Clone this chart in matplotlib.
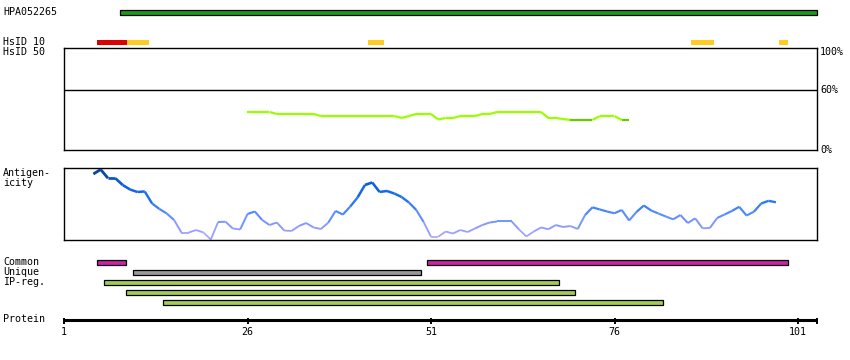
import matplotlib
matplotlib.use("Agg")
import matplotlib.pyplot as plt
from matplotlib.collections import LineCollection
from matplotlib.colors import LinearSegmentedColormap
import numpy as np

# ---- data (residue positions) ----
protein_len = 103.6
tick_pos = [1, 26, 51, 76, 101]

hpa_range = (8.6, 103.6)

hsid10_starts = [5.5, 9.6, 42.4, 86.4, 98.4]
hsid10_ends = [9.6, 12.6, 44.6, 89.6, 99.6]
hsid10_colors = ["#dd0000", "#ffcc22", "#ffcc22", "#ffcc22", "#ffcc22"]

hsid50_res = list(range(26, 79))
hsid50_pct = [37.3, 37.3, 37.3, 37.3, 35.3, 35.3, 35.3, 35.3, 35.3, 35.3,
              33.3, 33.3, 33.3, 33.3, 33.3, 33.3, 33.3, 33.3, 33.3, 33.3,
              33.3, 31.4, 33.3, 35.3, 35.3, 35.3, 30.0, 31.4, 31.4, 33.3,
              33.3, 33.3, 35.3, 35.3, 37.3, 37.3, 37.3, 37.3, 37.3, 37.3,
              37.3, 31.4, 31.4, 30.4, 29.4, 29.4, 29.4, 29.4, 33.3, 33.3,
              33.3, 29.4, 29.4]

antigen_res = list(range(5, 99))
antigen_val = [91.7, 97.9, 85.7, 85.7, 76.4, 70.1, 66.7, 67.4, 50.7, 43.1,
               36.8, 27.8, 10.4, 10.4, 13.9, 10.4, 0.7, 25.0, 25.4, 16.0,
               14.6, 36.1, 39.6, 27.8, 20.8, 24.3, 13.2, 12.5, 19.4, 23.6,
               17.4, 15.3, 24.0, 40.3, 35.4, 46.5, 59.0, 76.4, 79.9, 66.7,
               68.1, 64.6, 59.7, 52.1, 41.7, 25.0, 4.6, 4.6, 11.8, 9.0,
               13.9, 11.1, 16.0, 20.8, 24.3, 25.7, 25.7, 25.7, 14.6, 4.9,
               11.8, 17.4, 14.9, 20.8, 18.1, 19.4, 15.3, 34.7, 45.4, 42.4,
               39.6, 37.1, 41.7, 27.1, 38.9, 47.9, 41.0, 36.8, 32.6, 28.7,
               34.7, 23.6, 30.1, 16.3, 16.7, 30.6, 35.4, 40.3, 46.1, 34.0,
               39.3, 50.7, 54.4, 52.4]

common_starts = [5.5, 50.5]
common_ends = [9.5, 99.6]
unique_starts = [10.4]
unique_ends = [49.6]
ipreg_starts = [6.5, 9.5, 14.5]
ipreg_ends = [68.5, 70.6, 82.6]

# ---- layout (pixel rows) ----
W, H = 850, 360
px_per_res = 7.34
x0 = 1 - 64 / px_per_res
x1 = x0 + W / px_per_res

fig = plt.figure(figsize=(W / 100, H / 100), dpi=100)
ax = fig.add_axes([0, 0, 1, 1])
ax.set_xlim(x0, x1)
ax.set_ylim(H, 0)
ax.axis("off")

font = dict(family="DejaVu Sans Mono", fontsize=7.2, color="black")

def bars(starts, ends, yc, h, color, edge=True):
    s = np.array(starts)
    e = np.array(ends)
    ax.barh([yc] * len(s), e - s, left=s, height=h, color=color,
            edgecolor="black" if edge else "none", linewidth=0.9 if edge else 0)

# HPA bar
bars([hpa_range[0]], [hpa_range[1]], 12, 5, "#1a9a1a")
ax.text(x0 + 3 / px_per_res, 12, "HPA052265", va="center", **font)

# HsID 10
for s, e, c in zip(hsid10_starts, hsid10_ends, hsid10_colors):
    bars([s], [e], 42.5, 5, c, edge=False)
ax.text(x0 + 3 / px_per_res, 42, "HsID 10", va="center", **font)
ax.text(x0 + 3 / px_per_res, 52, "HsID 50", va="center", **font)

# HsID 50 panel
a50 = fig.add_axes([64 / W, 1 - 150 / H, 753 / W, 102 / H])
a50.set_xlim(1, protein_len)
a50.set_ylim(0, 100)
a50.set_xticks([])
a50.set_yticks([])
for sp in a50.spines.values():
    sp.set_linewidth(1.0)
a50.axhline(59, color="black", lw=1.0)
pts = np.column_stack([hsid50_res, hsid50_pct])
segs = np.stack([pts[:-1], pts[1:]], axis=1)
cols = ["#66cc00" if max(a, b) < 30 else "#99ff00"
        for a, b in zip(hsid50_pct[:-1], hsid50_pct[1:])]
a50.add_collection(LineCollection(segs, colors=cols, linewidths=1.6))
for lbl, yy in [("100%", 52), ("60%", 90), ("0%", 150)]:
    ax.text(x0 + 820 / px_per_res, yy, lbl, va="center", **font)

# Antigenicity panel
aag = fig.add_axes([64 / W, 1 - 240 / H, 753 / W, 72 / H])
aag.set_xlim(1, protein_len)
aag.set_ylim(0, 100)
aag.set_xticks([])
aag.set_yticks([])
for sp in aag.spines.values():
    sp.set_linewidth(1.0)
cmap = LinearSegmentedColormap.from_list(
    "ag", ["#b8a8ff", "#8899ff", "#4a88ff", "#1a6ef0", "#0b5bd6", "#0d3f8c"])
pts = np.column_stack([antigen_res, antigen_val])
segs = np.stack([pts[:-1], pts[1:]], axis=1)
mid = (np.array(antigen_val[:-1]) + np.array(antigen_val[1:])) / 2
lc = LineCollection(segs, colors=cmap(mid / 100), linewidths=1.2 + mid / 100 * 0.9)
aag.add_collection(lc)
ax.text(x0 + 3 / px_per_res, 173, "Antigen-", va="center", **font)
ax.text(x0 + 3 / px_per_res, 183, "icity", va="center", **font)

# Common / Unique / IP-reg.
bars(common_starts, common_ends, 262.3, 4.7, "#cc22aa")
bars(unique_starts, unique_ends, 272.3, 4.7, "#999999")
for i, (s, e) in enumerate(zip(ipreg_starts, ipreg_ends)):
    bars([s], [e], 282.3 + 10 * i, 4.7, "#a2cc55")
for lbl, yy in [("Common", 262), ("Unique", 272), ("IP-reg.", 282), ("Protein", 319)]:
    ax.text(x0 + 3 / px_per_res, yy, lbl, va="center", **font)

# Protein axis
ax.hlines(319.6, 1, protein_len, color="black", lw=2.2)
ax.vlines(tick_pos, 318, 324, color="black", lw=1.4)
ax.vlines([1, protein_len], 317.5, 324, color="black", lw=1.4)
for t in tick_pos:
    ax.text(t, 332, str(t), ha="center", va="center", **font)

fig.savefig("out.png", dpi=100, facecolor="white")
